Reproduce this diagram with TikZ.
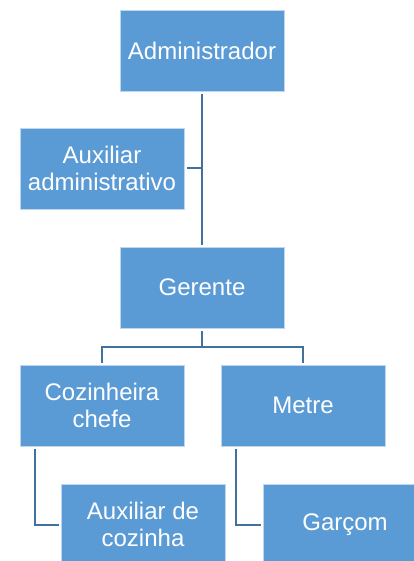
\documentclass[tikz,border=0pt]{standalone}
\usepackage{fontspec}
\setmainfont{Liberation Sans}
\usepackage{tikz}
\definecolor{boxblue}{RGB}{91,155,213}
\definecolor{lineblue}{RGB}{65,113,156}
\definecolor{edgeblue}{RGB}{189,215,238}

\begin{document}
\begin{tikzpicture}[x=1pt,y=-1pt,
  cargo/.style={rectangle,fill=boxblue,draw=edgeblue,line width=0.8pt,
    minimum width=164pt,minimum height=81pt,text=white,align=center,
    font=\fontsize{24}{27}\selectfont,inner sep=0pt},
  conn/.style={draw=lineblue,line width=2pt,shorten <=3pt,shorten >=2pt}]
  \clip (0,0) rectangle (414,561);
  \useasboundingbox (0,0) rectangle (414,561);
  % top of the chart
  \node[cargo] (adm) at (202,50.5) {Administrador};
  \node[cargo] (auxadm) at (102,168.5) {Auxiliar\\administrativo};
  \node[cargo] (ger) at (202,287.5) {Gerente};
  \draw[conn] (adm) -- (ger);
  \draw[conn,shorten >=0pt] (auxadm) -- (auxadm -| adm);
  % gerente and below
  \node[cargo] (coz) at (102,405.5) {Cozinheira\\chefe};
  \node[cargo] (metre) at (303,405.5) {Metre};
  \coordinate (bus) at (202,347);
  \draw[conn,shorten >=0pt] (ger) -- (bus);
  \draw[conn,shorten <=0pt] (bus) -| (coz);
  \draw[conn,shorten <=0pt] (bus) -| (metre);
  % assistants
  \node[cargo] (auxcoz) at (143,524.5) {Auxiliar de\\cozinha};
  \node[cargo] (garcom) at (345,524.5) {Garçom};
  \draw[conn] ([xshift=15pt]coz.south west) |- (auxcoz);
  \draw[conn] ([xshift=15pt]metre.south west) |- (garcom);
\end{tikzpicture}
\end{document}
